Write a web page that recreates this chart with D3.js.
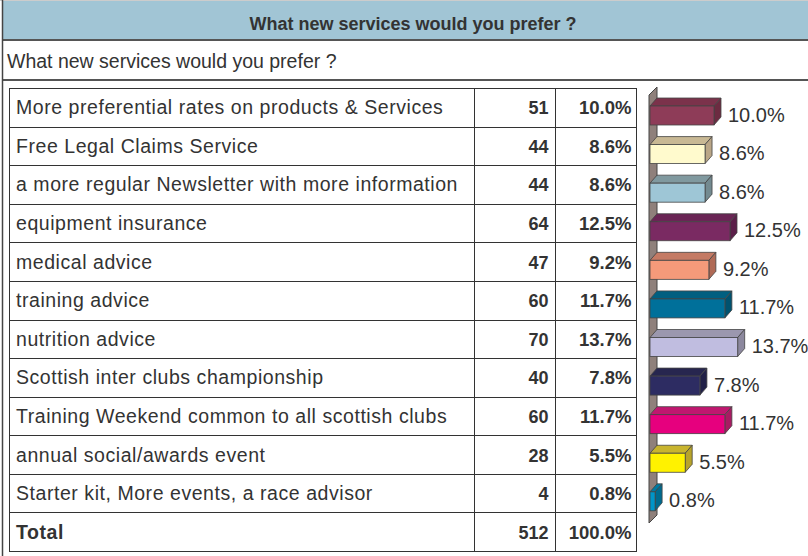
<!DOCTYPE html>
<html><head><meta charset="utf-8">
<script src="https://cdn.jsdelivr.net/npm/d3@7"></script>
<style>
html,body{margin:0;padding:0;background:#fff;}
svg{display:block;font-family:"Liberation Sans",Arial,sans-serif;}
</style></head>
<body><svg id="chart" width="808" height="556"></svg>
<script>
const title = "What new services would you prefer ?";
const categories = [
  "More preferential rates on products & Services",
  "Free Legal Claims Service",
  "a more regular Newsletter with more information",
  "equipment insurance",
  "medical advice",
  "training advice",
  "nutrition advice",
  "Scottish inter clubs championship",
  "Training Weekend common to all scottish clubs",
  "annual social/awards event",
  "Starter kit, More events, a race advisor"
];
const counts = [51, 44, 44, 64, 47, 60, 70, 40, 60, 28, 4];
const percents = [10.0, 8.6, 8.6, 12.5, 9.2, 11.7, 13.7, 7.8, 11.7, 5.5, 0.8];
const totalCount = 512;
const totalPercent = 100.0;
const frontColors = ["#8e3c58","#fffacd","#9ec6d6","#7a2a62","#f59a7a","#00709a","#c0bde0","#2d2c62","#e6007e","#fff200","#0095c8"];
const topColors   = ["#7b324b","#c8b894","#80999f","#6a2555","#c47a64","#005f80","#9b97ae","#27264f","#c0176f","#c8b42e","#0079a0"];
const sideColors  = ["#6c2b41","#baa687","#738a90","#5b1f49","#b06a56","#00526f","#8c889e","#212047","#a81b62","#b8a42a","#006a8e"];

const svg = d3.select("#chart");
const W = 808, H = 556;
const ink = "#333";

// title bar
svg.append("rect").attr("x",2).attr("y",0).attr("width",W).attr("height",40).attr("fill","#a1c5d5");
svg.append("line").attr("x1",0).attr("x2",W).attr("y1",0.5).attr("y2",0.5).attr("stroke","#ccc");
svg.append("line").attr("x1",2).attr("x2",W).attr("y1",40).attr("y2",40).attr("stroke","#555").attr("stroke-width",2);
svg.append("line").attr("x1",2).attr("x2",W).attr("y1",80).attr("y2",80).attr("stroke","#555").attr("stroke-width",2);
svg.append("line").attr("x1",2.5).attr("x2",2.5).attr("y1",0).attr("y2",H).attr("stroke","#444").attr("stroke-width",1.5);
svg.append("text").attr("x",413).attr("y",30).attr("text-anchor","middle")
  .attr("font-size",18).attr("font-weight","bold").attr("fill",ink).text(title);
svg.append("text").attr("x",7).attr("y",68).attr("font-size",19.5).attr("fill",ink).text(title);

// table
const rowsAll = categories.map((c,i)=>({label:c,count:counts[i],pct:percents[i],i:i}));
rowsAll.push({label:"Total",count:totalCount,pct:totalPercent,i:-1});
const y = d3.scaleBand().domain(d3.range(rowsAll.length)).range([88,551]).padding(0);
const tx0 = 9.5, tx1 = 474.5, tx2 = 555.5, tx3 = 636.5;
const tbl = svg.append("g");
tbl.append("rect").attr("x",tx0).attr("y",88.5).attr("width",tx3-tx0).attr("height",551-88)
  .attr("fill","#fff").attr("stroke",ink);
[tx1,tx2].forEach(x=>tbl.append("line").attr("x1",x).attr("x2",x).attr("y1",88).attr("y2",551).attr("stroke",ink));
d3.range(1,rowsAll.length).forEach(k=>{
  const yy = Math.round(y(k))+0.5;
  tbl.append("line").attr("x1",tx0).attr("x2",tx3).attr("y1",yy).attr("y2",yy).attr("stroke",ink);
});
const rg = tbl.selectAll("g.row").data(rowsAll).join("g").attr("class","row")
  .attr("transform",(d,k)=>`translate(0,${y(k)+y.bandwidth()/2+7})`);
rg.append("text").attr("x",16).attr("font-size",19.5).attr("letter-spacing",0.55).attr("fill",ink)
  .attr("font-weight",d=>d.i<0?"bold":"normal").text(d=>d.label);
rg.append("text").attr("x",tx2-7).attr("text-anchor","end").attr("font-size",18).attr("font-weight","bold").attr("fill",ink).text(d=>d.count);
rg.append("text").attr("x",tx3-5).attr("text-anchor","end").attr("font-size",18.5).attr("font-weight","bold").attr("fill",ink).text(d=>d.pct.toFixed(1)+"%");

// 3D bars
const x = d3.scaleLinear().domain([0,100]).range([650,1290]);
const dx = 7, dy = 8;
const bg = svg.append("g");
const wx = x(0)-1, wTop = 95, wBot = 523;
bg.append("path").attr("d",`M${wx},${wTop} L${wx+dx+1},${wTop-dy} L${wx+dx+1},${wBot-dy} L${wx},${wBot} Z`)
  .attr("fill","#8f807b").attr("stroke","#444").attr("stroke-width",1);
const bars = bg.selectAll("g.bar").data(rowsAll.filter(d=>d.i>=0)).join("g").attr("class","bar");
bars.each(function(d){
  const g = d3.select(this);
  const top = y(d.i)+18, bot = y(d.i)+37;
  const x0 = x(0), x1 = x(d.pct);
  g.append("path").attr("d",`M${x0},${top} L${x0+dx},${top-dy} L${x1+dx},${top-dy} L${x1},${top} Z`)
    .attr("fill",topColors[d.i]).attr("stroke","#444").attr("stroke-width",0.8);
  g.append("path").attr("d",`M${x1},${top} L${x1+dx},${top-dy} L${x1+dx},${bot-dy} L${x1},${bot} Z`)
    .attr("fill",sideColors[d.i]).attr("stroke","#444").attr("stroke-width",0.8);
  g.append("rect").attr("x",x0).attr("y",top).attr("width",x1-x0).attr("height",bot-top)
    .attr("fill",frontColors[d.i]).attr("stroke","#444").attr("stroke-width",0.8);
  g.append("text").attr("x",x1+dx+7).attr("y",(top+bot)/2-1).attr("dy","0.35em")
    .attr("font-size",20).attr("fill",ink).text(d.pct.toFixed(1)+"%");
});
</script></body></html>
